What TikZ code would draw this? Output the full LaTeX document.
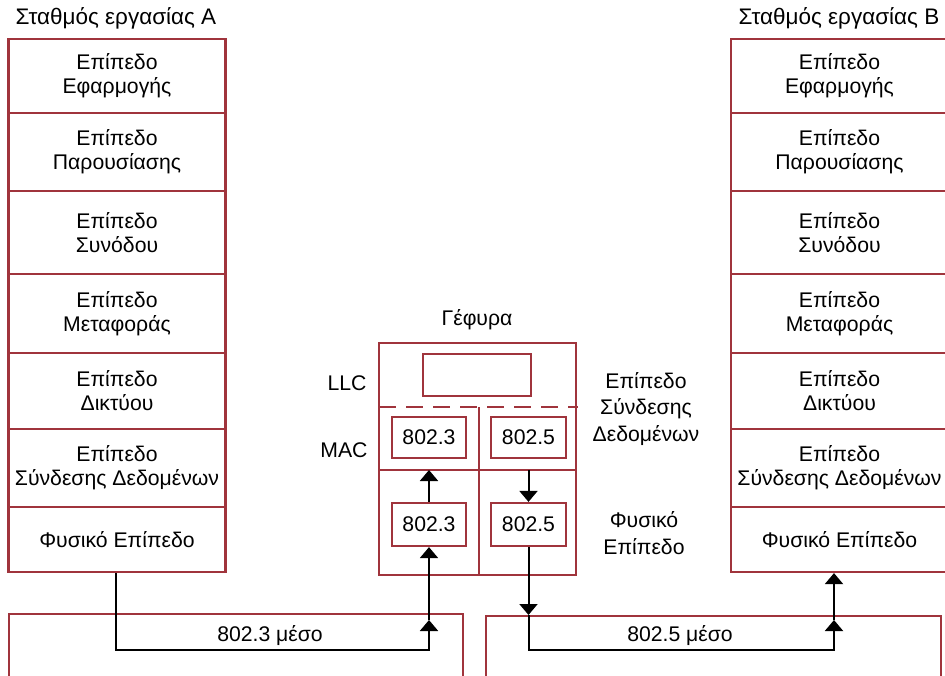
\documentclass[tikz,border=0pt]{standalone}
\usepackage{fontspec}
\setmainfont{Liberation Sans}
\usetikzlibrary{arrows.meta}
\definecolor{boxred}{RGB}{160,52,60}
\newcommand\myfont{\fontsize{21.2}{24}\selectfont}
\newcommand\myfontb{\fontsize{21.2}{26.7}\selectfont}
\newcommand\myfontt{\fontsize{22.5}{26}\selectfont}
\tikzset{
  layer/.style={draw=boxred, line width=2.2pt, minimum width=217pt, inner sep=0pt, align=center, font=\myfont},
  rbox/.style={draw=boxred, line width=2.2pt},
  ibox/.style={draw=boxred, line width=2.2pt, inner sep=0pt, font=\myfont},
  lbl/.style={align=center, font=\myfont, inner sep=0pt},
  lblt/.style={align=center, font=\myfontt, inner sep=0pt},
  lblb/.style={align=center, font=\myfontb, inner sep=0pt},
  conn/.style={line width=2pt, -{Triangle[width=18pt,length=11pt]}},
  plain/.style={line width=2pt}
}
\begin{document}
\begin{tikzpicture}[x=1pt,y=-1pt]
\useasboundingbox (0,0) rectangle (945,675);
\clip (0,0) rectangle (945,675);
\fill[white] (0,0) rectangle (945,675);

% station labels
\node[lblt] (tA) at (116,18) {Σταθμός εργασίας A};
\node[lblt] (tB) at (839,18) {Σταθμός εργασίας B};

% left stack
\node[layer, minimum height=74pt] (a1) at (117,76) {Επίπεδο\\Εφαρμογής};
\node[layer, minimum height=78pt] (a2) at (117,152) {Επίπεδο\\Παρουσίασης};
\node[layer, minimum height=83pt] (a3) at (117,232.5) {Επίπεδο\\Συνόδου};
\node[layer, minimum height=79pt] (a4) at (117,313.5) {Επίπεδο\\Μεταφοράς};
\node[layer, minimum height=76pt] (a5) at (117,391) {Επίπεδο\\Δικτύου};
\node[layer, minimum height=78pt] (a6) at (117,468) {Επίπεδο\\Σύνδεσης Δεδομένων};
\node[layer, minimum height=65pt] (a7) at (117,539.5) {Φυσικό Επίπεδο};

% right stack
\node[layer, minimum height=74pt] (b1) at (839.5,76) {Επίπεδο\\Εφαρμογής};
\node[layer, minimum height=78pt] (b2) at (839.5,152) {Επίπεδο\\Παρουσίασης};
\node[layer, minimum height=83pt] (b3) at (839.5,232.5) {Επίπεδο\\Συνόδου};
\node[layer, minimum height=79pt] (b4) at (839.5,313.5) {Επίπεδο\\Μεταφοράς};
\node[layer, minimum height=76pt] (b5) at (839.5,391) {Επίπεδο\\Δικτύου};
\node[layer, minimum height=78pt] (b6) at (839.5,468) {Επίπεδο\\Σύνδεσης Δεδομένων};
\node[layer, minimum height=65pt] (b7) at (839.5,539.5) {Φυσικό Επίπεδο};

% bridge
\node[lbl] (gef) at (477,320) {Γέφυρα};
\draw[rbox] (379,343) rectangle (576,575);
\node[ibox, minimum width=108pt, minimum height=42pt] (llc) at (477,375) {};
\draw[boxred, line width=2.2pt, dash pattern=on 17pt off 10pt] (379,407) -- (578,407);
\draw[rbox] (479,407) -- (479,575);
\draw[rbox] (379,470) -- (576,470);
\node[ibox, minimum width=74pt, minimum height=41pt] (m3) at (429,437.5) {802.3};
\node[ibox, minimum width=75pt, minimum height=41pt] (m5) at (528.5,437.5) {802.5};
\node[ibox, minimum width=74pt, minimum height=43pt] (p3) at (429,524.5) {802.3};
\node[ibox, minimum width=75pt, minimum height=43pt] (p5) at (528.5,524.5) {802.5};

\node[lbl] (llcl) at (347,383) {LLC};
\node[lbl] (macl) at (344,450) {MAC};
\node[lblb] (dll) at (646,409) {Επίπεδο\\Σύνδεσης\\Δεδομένων};
\node[lblb] (phl) at (644,533) {Φυσικό\\Επίπεδο};

% media
\draw[rbox] (9,700) |- (463,614) -- (463,700);
\draw[rbox] (486,700) |- (941,616) -- (941,700);
\node[lbl] (med3) at (270,636) {802.3 μέσο};
\node[lbl] (med5) at (680,636) {802.5 μέσο};

% connectors
\coordinate (c1) at (429,620);
\coordinate (c2) at (429,470);
\coordinate (c3) at (528.5,470);
\coordinate (c4) at (528.5,615);
\coordinate (c5) at (834,620);
\draw[conn] (a7.south -| 116,0) |- (250,650) -| (c1);
\draw[conn] (c1) -- (p3.south);
\draw[conn] (p3.north) -- (c2);
\draw[conn] (c3) -- (p5.north);
\draw[conn] (p5.south) -- (c4);
\draw[conn] (c4) |- (700,650) -| (c5);
\draw[conn] (c5) -- (b7.south -| c5);
\end{tikzpicture}
\end{document}
